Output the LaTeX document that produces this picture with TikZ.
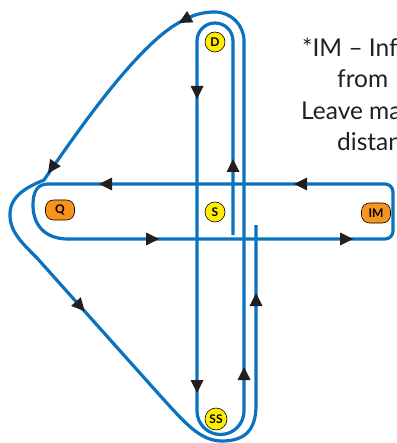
\documentclass[tikz,border=0pt]{standalone}
\usepackage{fontspec}
\setmainfont{Lato}
\usetikzlibrary{calc}
\definecolor{routeblue}{HTML}{0A72BE}
\definecolor{badgeY}{HTML}{FFEC00}
\definecolor{badgeO}{HTML}{F7941D}
\definecolor{inkc}{HTML}{231F20}
\newcommand\arrowtri[3]{\fill[inkc] ($(#1,#2)+(#3:7)$) -- ($(#1,#2)+(#3+180:6)+(#3+90:6.5)$) -- ($(#1,#2)+(#3+180:6)+(#3-90:6.5)$) -- cycle;}
\begin{document}
\begin{tikzpicture}[x=1pt,y=-1pt,
  routeline/.style={draw=routeblue, line width=3.2pt, line join=round},
  ybadge/.style={circle, draw=black, line width=0.6pt, fill=badgeY, inner sep=0pt, minimum size=20pt, font=\bfseries\fontsize{12}{12}\selectfont},
  obadge/.style={rectangle, rounded corners=8pt, draw=black, line width=0.6pt, fill=badgeO, inner sep=0pt, minimum width=29pt, minimum height=20pt, font=\bfseries\fontsize{12}{12}\selectfont},
  note/.style={anchor=base west, inner sep=0pt, font=\fontsize{24.5}{24.5}\selectfont, text=inkc}
]
\useasboundingbox (0,0) rectangle (396,443);
\clip (0,0) rectangle (396,443);

% horizontal loop Q -- IM
\draw[routeline] (48,184) -- (385,184) .. controls (389.4,184) and (393,187.6) .. (393,192)
  -- (393,231) .. controls (393,235.4) and (389.4,239) .. (385,239) -- (68,239)
  .. controls (45,239) and (33,225) .. (33,205) .. controls (33,192) and (37,184) .. (48,184) -- cycle;

% long route
\draw[routeline] (233,235) -- (233,41) .. controls (233,31) and (225,23) .. (215,23)
  .. controls (205,23) and (197,31) .. (197,41) -- (197,411)
  .. controls (197,424) and (207.5,434.5) .. (220.5,434.5)
  .. controls (233.5,434.5) and (244,424) .. (244,411) -- (244,41)
  .. controls (244,25) and (231,12) .. (215,12)
  .. controls (199,12) and (188,17) .. (175,25)
  .. controls (130,53) and (67,147) .. (44,180)
  .. controls (30,186) and (11,194) .. (10,213)
  .. controls (9,231) and (22,243) .. (37,258) -- (160,395.5)
  .. controls (185,423) and (200,441) .. (222,441)
  .. controls (245,441) and (256,430) .. (256,405) -- (256,225);

% arrowheads
\arrowtri{185}{19.6}{151}
\arrowtri{52}{167.5}{125}
\arrowtri{80}{306}{48}
\arrowtri{197}{92}{90}
\arrowtri{197}{386}{90}
\arrowtri{233}{166}{270}
\arrowtri{244}{374}{270}
\arrowtri{256}{300}{270}
\arrowtri{301}{184}{180}
\arrowtri{106}{184}{180}
\arrowtri{152}{239}{0}
\arrowtri{346}{239}{0}

% badges
\node[ybadge] (D) at (215,42) {D};
\node[ybadge] (S) at (215,212) {S};
\node[ybadge, minimum size=22pt] (SS) at (216,419) {SS};
\node[obadge] (Q) at (60,210) {Q};
\node[obadge] (IM) at (376,213) {IM};

% note text
\node[note] (t1) at (302,57) {*IM – Inf};
\node[note] (t2) at (337,88) {from};
\node[note] (t3) at (301,120) {Leave ma};
\node[note] (t4) at (337,151) {distan};
\end{tikzpicture}
\end{document}
